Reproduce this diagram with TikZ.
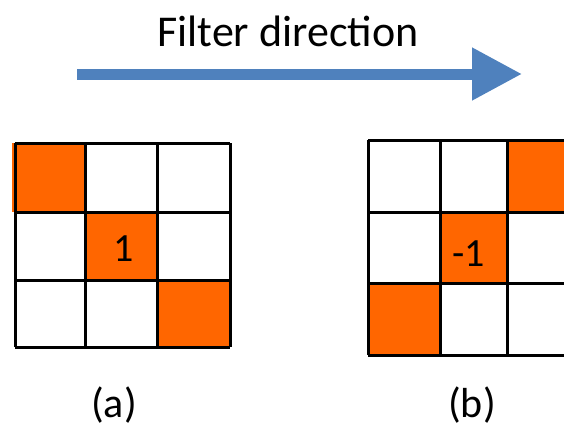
\documentclass[tikz,border=0pt]{standalone}
\usepackage{fontspec}
\setmainfont{Carlito}
\usetikzlibrary{arrows.meta}
\definecolor{cellorange}{HTML}{FF6600}
\definecolor{arrowblue}{HTML}{4F81BD}
\tikzset{
  gridline/.style={line width=3pt, black},
  hotcell/.style={fill=cellorange},
  caption/.style={font=\fontsize{44}{50}\selectfont, text=black, inner sep=0pt},
  subcap/.style={font=\fontsize{42}{48}\selectfont, text=black, inner sep=0pt},
  cellnum/.style={font=\fontsize{40}{46}\selectfont, text=black, inner sep=0pt},
  flow/.style={line width=11pt, arrowblue, -{Triangle[length=50pt,width=50pt]}}
}
\begin{document}
\begin{tikzpicture}[x=1pt,y=-1pt]
  \useasboundingbox (0,0) rectangle (564,428);
  \clip (0,0) rectangle (564,428);

  % heading and direction arrow
  \node[caption, anchor=base] (title) at (288,47) {Filter direction};
  \coordinate (flowstart) at (77,74);
  \coordinate (flowend) at (522,74);
  \draw[flow] (flowstart) -- (flowend);

  % kernel (a): main diagonal
  \fill[hotcell] (12,143) rectangle (85,212);
  \fill[hotcell] (85,212) rectangle (157,280);
  \fill[hotcell] (157,280) rectangle (230,347);
  \foreach \x in {15,85,157,230} \draw[gridline] (\x,143) -- (\x,347);
  \foreach \y in {143,212,280,347} \draw[gridline] (15,\y) -- (230,\y);
  \node[cellnum] (numa) at (124,249) {1};

  % kernel (b): anti-diagonal, running past the right edge
  \fill[hotcell] (507,140) rectangle (578,212);
  \fill[hotcell] (440,212) rectangle (507,283);
  \fill[hotcell] (368,283) rectangle (440,355);
  \foreach \x in {368,440,507,578} \draw[gridline] (\x,140) -- (\x,355);
  \foreach \y in {140,212,283,355} \draw[gridline] (368,\y) -- (580,\y);
  \node[cellnum] (numb) at (469,254) {-1};

  % captions
  \node[subcap] (capa) at (114,405) {(a)};
  \node[subcap] (capb) at (472,405) {(b)};
\end{tikzpicture}
\end{document}
